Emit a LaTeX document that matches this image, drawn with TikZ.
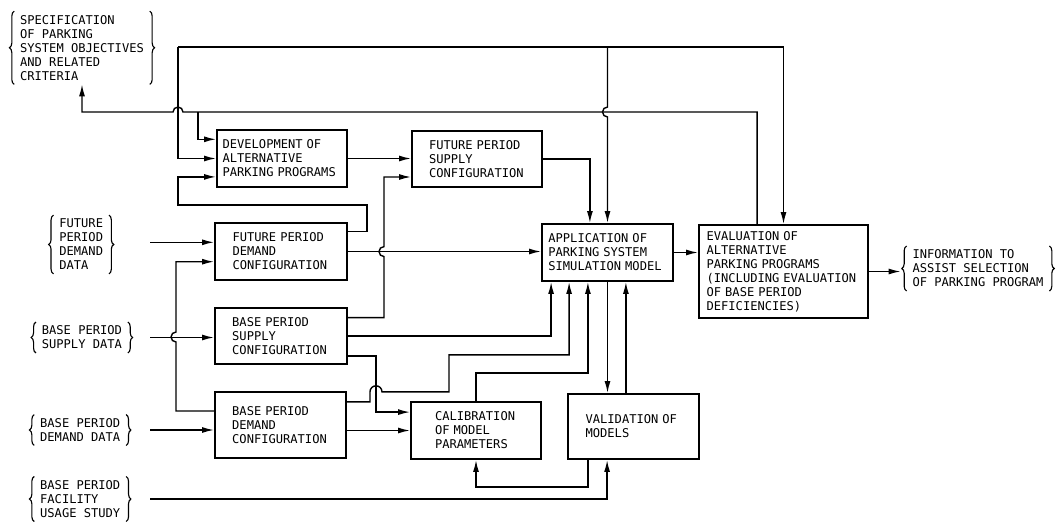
\documentclass[tikz,border=0pt]{standalone}
\usepackage{fontspec}
\setmonofont{DejaVu Sans Mono}
\usetikzlibrary{arrows.meta,decorations.pathreplacing}

\begin{document}
\begin{tikzpicture}[
  x=0.25cm, y=-0.25cm,
  font=\ttfamily\fontsize{8.6}{10}\selectfont,
  line width=1pt,
  blk/.style={draw, line width=1.4pt, align=left, inner ysep=0pt},
  dat/.style={align=left, inner xsep=1.3mm, inner ysep=0.8mm},
  brc/.style={decorate, decoration={brace, amplitude=1.2mm}, line width=0.8pt},
  >={Latex[length=3mm, width=1.5mm]}
]
\useasboundingbox (0,0) rectangle (105.8,52.2);

% Inputs and output (braced text)
\node[dat] (spec) at (8.2,4.78) {SPECIFICATION\\OF PARKING\\SYSTEM OBJECTIVES\\AND RELATED\\CRITERIA};
\node[dat] (fpdd) at (8.12,24.45) {FUTURE\\PERIOD\\DEMAND\\DATA};
\node[dat] (bpsd) at (8.19,33.75) {BASE PERIOD\\SUPPLY DATA};
\node[dat] (bpdd) at (8.02,43.0) {BASE PERIOD\\DEMAND DATA};
\node[dat] (bpfu) at (8.02,49.9) {BASE PERIOD\\FACILITY\\USAGE STUDY};
\node[dat] (info) at (97.8,26.85) {INFORMATION TO\\ASSIST SELECTION\\OF PARKING PROGRAM};

\draw[brc] (spec.south west) -- (spec.north west); \draw[brc] (spec.north east) -- (spec.south east);
\draw[brc] (fpdd.south west) -- (fpdd.north west); \draw[brc] (fpdd.north east) -- (fpdd.south east);
\draw[brc] (bpsd.south west) -- (bpsd.north west); \draw[brc] (bpsd.north east) -- (bpsd.south east);
\draw[brc] (bpdd.south west) -- (bpdd.north west); \draw[brc] (bpdd.north east) -- (bpdd.south east);
\draw[brc] (bpfu.south west) -- (bpfu.north west); \draw[brc] (bpfu.north east) -- (bpfu.south east);
\draw[brc] (info.south west) -- (info.north west); \draw[brc] (info.north east) -- (info.south east);

% Process blocks
\node[blk, text width=29.7mm, inner xsep=1.4mm, minimum height=14.25mm] (dev) at (28.2,15.85)
  {DEVELOPMENT OF\\ALTERNATIVE\\PARKING PROGRAMS};
\node[blk, text width=24.0mm, inner xsep=4.25mm, minimum height=14mm] (fps) at (47.7,15.9)
  {FUTURE PERIOD\\SUPPLY\\CONFIGURATION};
\node[blk, text width=24.2mm, inner xsep=4.4mm, minimum height=14.25mm] (fpd) at (28.1,25.15)
  {FUTURE PERIOD\\DEMAND\\CONFIGURATION};
\node[blk, text width=24.4mm, inner xsep=4.3mm, minimum height=14mm] (bps) at (28.1,33.6)
  {BASE PERIOD\\SUPPLY\\CONFIGURATION};
\node[blk, text width=24.15mm, inner xsep=4.3mm, minimum height=16.5mm] (bpd) at (28.05,42.5)
  {BASE PERIOD\\DEMAND\\CONFIGURATION};
\node[blk, text width=29.55mm, inner xsep=1.6mm, minimum height=14.25mm] (app) at (60.75,25.25)
  {APPLICATION OF\\PARKING SYSTEM\\SIMULATION MODEL};
\node[blk, text width=38.45mm, inner xsep=1.9mm, minimum height=23.25mm] (eval) at (78.35,27.15)
  {EVALUATION OF\\ALTERNATIVE\\PARKING PROGRAMS\\(INCLUDING EVALUATION\\OF BASE PERIOD\\DEFICIENCIES)};
\node[blk, text width=20.5mm, inner xsep=6.0mm, minimum height=14.25mm] (cal) at (47.6,43.05)
  {CALIBRATION\\OF MODEL\\PARAMETERS};
\node[blk, text width=23.95mm, inner xsep=4.4mm, minimum height=16.25mm] (val) at (63.35,42.65)
  {VALIDATION OF\\MODELS};

% Junctions
\coordinate (top) at (17.8,4.7);
\coordinate (fb)  at (19.8,11.2);
\coordinate (lft) at (17.8,20.5);
\coordinate (inx) at (15.0,0);

% Objectives distribution
\draw[->] (top) |- (dev.west);
\draw[->] (top) -| (eval.north);
\draw[->] (top -| app.north) -- ++(0,6.0) arc[start angle=90, end angle=270, radius=1.25mm] -- (app.north);

% Evaluation feedback
\draw[->] ([xshift=-6.6mm]eval.north) |- (fb) -- ++(-1.5,0)
  arc[start angle=0, end angle=180, radius=1.25mm] -| (spec.south);
\draw[->] (fb) |- ([yshift=4.8mm]dev.west);

% Future period side
\draw[->] (dev.east) -- (dev.east -| fps.west);
\draw[->] (fps.east) -| ([xshift=-4.4mm]app.north);
\draw[->] ([yshift=5mm]fpd.east) -- ++(1.9,0) |- (lft) |- ([yshift=-4.6mm]dev.west);
\draw[->] (fpd.east) -- (fpd.east -| app.west);
\draw[->] ([yshift=2.3mm]fpd.west -| inx) -- ([yshift=2.3mm]fpd.west);

% Base period supply
\draw[->] (bpsd.east -| inx) -- (bpsd.east -| bps.west);
\draw[->] ([yshift=4.6mm]bps.east) -- ++(3.6,0) -- ++(0,-6.1)
  arc[start angle=270, end angle=90, radius=1.25mm] |- ([yshift=-4.5mm]fps.west);
\draw[->] (bps.east) -| ([xshift=-14.1mm]app.south);
\draw[->] ([yshift=-5mm]bps.east) -- ++(2.8,0) |- ([yshift=4.6mm]cal.west);

% Base period demand
\draw[->] (bpdd.east -| inx) -- (bpdd.east -| bpd.west);
\draw[->] ([yshift=3.5mm]bpd.west) -- ++(-3.8,0) -- ++(0,-6.9)
  arc[start angle=270, end angle=90, radius=1.25mm] |- ([yshift=-2.55mm]fpd.west);
\draw[->] ([yshift=5.8mm]bpd.east) -- ++(2.3,0) -- ++(0,-1.0)
  arc[start angle=180, end angle=0, radius=1.5mm] -- ++(6.7,0) -- ++(0,-3.7) -| ([xshift=-9.6mm]app.south);
\draw[->] (cal.west -| bpd.east) -- (cal.west);

% Calibration and validation
\draw[->] (cal.north) -- ++(0,-2.8) -| ([xshift=-4.9mm]app.south);
\draw[->] (app.south) -- (app.south |- val.north);
\draw[->] ([xshift=4.6mm]app.south |- val.north) -- ([xshift=4.6mm]app.south);
\draw[->] ([xshift=-11.4mm]val.south) -- ++(0,2.7) -| (cal.south);
\draw[->] (bpfu.east -| inx) -| ([xshift=-6.6mm]val.south);

% Output
\draw[->] (app.east) -- (app.east -| eval.west);
\draw[->, shorten >=1.5mm] (eval.east) -- (eval.east -| info.west);

\end{tikzpicture}
\end{document}
